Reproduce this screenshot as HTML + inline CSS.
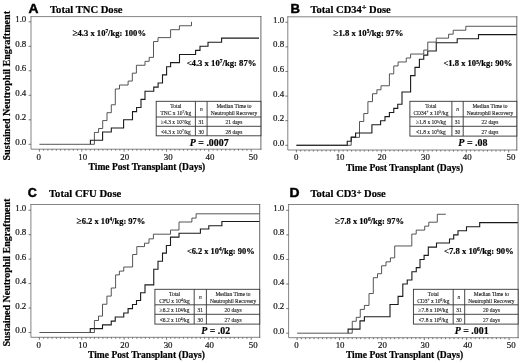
<!DOCTYPE html>
<html lang="en"><head><meta charset="utf-8"><title>Sustained Neutrophil Engraftment</title>
<style>
html,body{margin:0;padding:0;background:#fff;}
body{width:520px;height:363px;overflow:hidden;}
svg{display:block;filter:blur(0.3px);}
</style></head><body>
<svg width="520" height="363" viewBox="0 0 520 363">
<rect width="520" height="363" fill="#fff"/>
<g>
<path d="M90.40 144.30 L90.40 144.30 L90.40 140.22 L102.60 140.22 L102.60 132.05 L111.30 132.05 L111.30 127.97 L123.60 127.97 L123.60 119.80 L132.50 119.80 L132.50 111.63 L136.60 111.63 L136.60 107.55 L141.00 107.55 L141.00 99.38 L145.00 99.38 L145.00 91.22 L153.75 91.22 L153.75 87.13 L158.10 87.13 L158.10 83.05 L162.50 83.05 L162.50 74.88 L166.60 74.88 L166.60 66.72 L170.60 66.72 L170.60 62.63 L179.50 62.63 L179.50 54.47 L195.60 54.47 L195.60 50.38 L200.00 50.38 L200.00 46.30 L208.00 46.30 L208.00 42.22 L221.60 42.22 L221.60 38.13 L259.00 38.13" fill="none" stroke="#1a1a1a" stroke-width="1.1"/>
<path d="M39.40 144.30 L94.40 144.30 L94.40 132.45 L98.60 132.45 L98.60 128.49 L102.70 128.49 L102.70 120.59 L107.00 120.59 L107.00 112.69 L111.30 112.69 L111.30 104.78 L115.30 104.78 L115.30 88.98 L119.50 88.98 L119.50 85.03 L128.10 85.03 L128.10 81.07 L132.30 81.07 L132.30 73.17 L136.40 73.17 L136.40 65.27 L145.00 65.27 L145.00 61.32 L149.20 61.32 L149.20 57.36 L153.50 57.36 L153.50 41.56 L158.00 41.56 L158.00 37.61 L170.60 37.61 L170.60 29.70 L179.40 29.70 L179.40 25.75 L191.50 25.75 L191.50 21.80" fill="none" stroke="#383838" stroke-width="0.85"/>
<path d="M31.00 16.60 V149.20 H260.90 M31.00 16.60 H260.90" fill="none" stroke="#767676" stroke-width="0.9" stroke-linecap="square"/>
<path d="M260.90 16.60 V149.20" fill="none" stroke="#585858" stroke-width="0.9" stroke-linecap="square"/>
<path d="M39.40 149.20 v2.40M43.64 149.20 v1.50M47.87 149.20 v1.50M52.11 149.20 v1.50M56.34 149.20 v1.50M60.58 149.20 v1.50M64.82 149.20 v1.50M69.05 149.20 v1.50M73.29 149.20 v1.50M77.52 149.20 v1.50M81.76 149.20 v2.40M86.00 149.20 v1.50M90.23 149.20 v1.50M94.47 149.20 v1.50M98.70 149.20 v1.50M102.94 149.20 v1.50M107.18 149.20 v1.50M111.41 149.20 v1.50M115.65 149.20 v1.50M119.88 149.20 v1.50M124.12 149.20 v2.40M128.36 149.20 v1.50M132.59 149.20 v1.50M136.83 149.20 v1.50M141.06 149.20 v1.50M145.30 149.20 v1.50M149.54 149.20 v1.50M153.77 149.20 v1.50M158.01 149.20 v1.50M162.24 149.20 v1.50M166.48 149.20 v2.40M170.72 149.20 v1.50M174.95 149.20 v1.50M179.19 149.20 v1.50M183.42 149.20 v1.50M187.66 149.20 v1.50M191.90 149.20 v1.50M196.13 149.20 v1.50M200.37 149.20 v1.50M204.60 149.20 v1.50M208.84 149.20 v2.40M213.08 149.20 v1.50M217.31 149.20 v1.50M221.55 149.20 v1.50M225.78 149.20 v1.50M230.02 149.20 v1.50M234.26 149.20 v1.50M238.49 149.20 v1.50M242.73 149.20 v1.50M246.96 149.20 v1.50M251.20 149.20 v2.40M31.00 144.30 h-2.40M31.00 119.80 h-2.40M31.00 95.30 h-2.40M31.00 70.80 h-2.40M31.00 46.30 h-2.40M31.00 21.80 h-2.40" fill="none" stroke="#555" stroke-width="0.8"/>
<text x="38.60" y="160.00" text-anchor="middle" font-family='"Liberation Serif", serif' font-size="8.9" fill="#151515" stroke="#151515" stroke-width="0.2">0</text>
<text x="82.80" y="160.00" text-anchor="middle" font-family='"Liberation Serif", serif' font-size="8.9" fill="#151515" stroke="#151515" stroke-width="0.2">10</text>
<text x="124.70" y="160.00" text-anchor="middle" font-family='"Liberation Serif", serif' font-size="8.9" fill="#151515" stroke="#151515" stroke-width="0.2">20</text>
<text x="168.20" y="160.00" text-anchor="middle" font-family='"Liberation Serif", serif' font-size="8.9" fill="#151515" stroke="#151515" stroke-width="0.2">30</text>
<text x="209.90" y="160.00" text-anchor="middle" font-family='"Liberation Serif", serif' font-size="8.9" fill="#151515" stroke="#151515" stroke-width="0.2">40</text>
<text x="253.30" y="160.00" text-anchor="middle" font-family='"Liberation Serif", serif' font-size="8.9" fill="#151515" stroke="#151515" stroke-width="0.2">50</text>
<text x="26.30" y="144.80" text-anchor="end" font-family='"Liberation Serif", serif' font-size="8.9" fill="#151515" stroke="#151515" stroke-width="0.2">0.0</text>
<text x="26.30" y="120.30" text-anchor="end" font-family='"Liberation Serif", serif' font-size="8.9" fill="#151515" stroke="#151515" stroke-width="0.2">0.2</text>
<text x="26.30" y="95.80" text-anchor="end" font-family='"Liberation Serif", serif' font-size="8.9" fill="#151515" stroke="#151515" stroke-width="0.2">0.4</text>
<text x="26.30" y="71.30" text-anchor="end" font-family='"Liberation Serif", serif' font-size="8.9" fill="#151515" stroke="#151515" stroke-width="0.2">0.6</text>
<text x="26.30" y="46.80" text-anchor="end" font-family='"Liberation Serif", serif' font-size="8.9" fill="#151515" stroke="#151515" stroke-width="0.2">0.8</text>
<text x="26.30" y="22.30" text-anchor="end" font-family='"Liberation Serif", serif' font-size="8.9" fill="#151515" stroke="#151515" stroke-width="0.2">1.0</text>
<text transform="translate(28.60 13.20) scale(1.100 1)" font-family='"Liberation Sans", sans-serif' font-weight="bold" font-size="12.6" fill="#000" stroke="#000" stroke-width="0.45">A</text>
<text x="50.00" y="12.50" textLength="72.50" lengthAdjust="spacingAndGlyphs" font-family='"Liberation Serif", serif' font-weight="bold" font-size="10.7" fill="#000" stroke="#000" stroke-width="0.2">Total TNC Dose</text>
<text x="72.40" y="35.90" textLength="73.60" lengthAdjust="spacingAndGlyphs" font-family='"Liberation Serif", serif' font-weight="bold" font-size="9" fill="#000" stroke="#000" stroke-width="0.2"><tspan font-weight="normal" font-size="1.1em">≥</tspan>4.3 x 10<tspan font-size="5.6" dy="-2.7">7</tspan><tspan dy="2.7">/kg: 100%</tspan></text>
<text x="186.70" y="66.20" textLength="69.80" lengthAdjust="spacingAndGlyphs" font-family='"Liberation Serif", serif' font-weight="bold" font-size="9" fill="#000" stroke="#000" stroke-width="0.2"><tspan font-weight="normal">&lt;</tspan>4.3 x 10<tspan font-size="5.6" dy="-2.7">7</tspan><tspan dy="2.7">/kg: 87%</tspan></text>
<text x="88.60" y="170.40" textLength="116.70" lengthAdjust="spacingAndGlyphs" font-family='"Liberation Serif", serif' font-weight="bold" font-size="9.6" fill="#000" stroke="#000" stroke-width="0.2">Time Post Transplant (Days)</text>
<text transform="translate(9.80 160.50) rotate(-90)" textLength="149.50" lengthAdjust="spacingAndGlyphs" font-family='"Liberation Serif", serif' font-weight="bold" font-size="10.2" fill="#000" stroke="#000" stroke-width="0.2">Sustained Neutrophil Engraftment</text>
<rect x="156.20" y="101.30" width="104.70" height="34.50" fill="#fff" stroke="#333" stroke-width="0.9"/>
<path d="M156.20 117.00 H260.90M156.20 126.30 H260.90M195.40 101.30 V135.80M207.10 101.30 V135.80" fill="none" stroke="#333" stroke-width="0.9"/>
<text x="175.80" y="107.70" text-anchor="middle" font-family='"Liberation Serif", serif' font-size="5.5" fill="#1a1a1a" stroke="#1a1a1a" stroke-width="0.12" >Total</text>
<text x="175.80" y="114.70" text-anchor="middle" font-family='"Liberation Serif", serif' font-size="5.5" fill="#1a1a1a" stroke="#1a1a1a" stroke-width="0.12" >TNC x 10<tspan font-size="3.6" dy="-1.6">7</tspan><tspan dy="1.6">/kg</tspan></text>
<text x="201.25" y="111.20" text-anchor="middle" font-family='"Liberation Serif", serif' font-size="5.5" fill="#1a1a1a" stroke="#1a1a1a" stroke-width="0.12" font-style="italic">n</text>
<text x="234.00" y="107.70" text-anchor="middle" font-family='"Liberation Serif", serif' font-size="5.5" fill="#1a1a1a" stroke="#1a1a1a" stroke-width="0.12" >Median Time to</text>
<text x="234.00" y="114.70" text-anchor="middle" font-family='"Liberation Serif", serif' font-size="5.5" fill="#1a1a1a" stroke="#1a1a1a" stroke-width="0.12" >Neutrophil Recovery</text>
<text x="175.80" y="124.30" text-anchor="middle" font-family='"Liberation Serif", serif' font-size="5.5" fill="#1a1a1a" stroke="#1a1a1a" stroke-width="0.12" ><tspan font-weight="normal" font-size="1.1em">≥</tspan>4.3 x 10<tspan font-size="3.6" dy="-1.6">7</tspan><tspan dy="1.6">/kg</tspan></text>
<text x="201.25" y="124.30" text-anchor="middle" font-family='"Liberation Serif", serif' font-size="5.5" fill="#1a1a1a" stroke="#1a1a1a" stroke-width="0.12" >31</text>
<text x="234.00" y="124.30" text-anchor="middle" font-family='"Liberation Serif", serif' font-size="5.5" fill="#1a1a1a" stroke="#1a1a1a" stroke-width="0.12" >21 days</text>
<text x="175.80" y="133.60" text-anchor="middle" font-family='"Liberation Serif", serif' font-size="5.5" fill="#1a1a1a" stroke="#1a1a1a" stroke-width="0.12" ><tspan font-weight="normal">&lt;</tspan>4.3 x 10<tspan font-size="3.6" dy="-1.6">7</tspan><tspan dy="1.6">/kg</tspan></text>
<text x="201.25" y="133.60" text-anchor="middle" font-family='"Liberation Serif", serif' font-size="5.5" fill="#1a1a1a" stroke="#1a1a1a" stroke-width="0.12" >30</text>
<text x="234.00" y="133.60" text-anchor="middle" font-family='"Liberation Serif", serif' font-size="5.5" fill="#1a1a1a" stroke="#1a1a1a" stroke-width="0.12" >28 days</text>
<text x="189.80" y="145.80" textLength="38.80" lengthAdjust="spacingAndGlyphs" font-family='"Liberation Serif", serif' font-weight="bold" font-size="10.6" fill="#000" stroke="#000" stroke-width="0.2"><tspan font-style="italic">P</tspan> = .0007</text>
</g>
<g>
<path d="M296.40 145.30 L351.20 145.30 L351.20 137.36 L359.50 137.36 L359.50 121.49 L363.75 121.49 L363.75 113.56 L367.90 113.56 L367.90 101.65 L372.50 101.65 L372.50 93.72 L376.90 93.72 L376.90 89.75 L381.00 89.75 L381.00 85.78 L389.40 85.78 L389.40 73.88 L393.75 73.88 L393.75 65.95 L398.10 65.95 L398.10 61.98 L406.25 61.98 L406.25 58.01 L410.60 58.01 L410.60 54.04 L423.75 54.04 L423.75 50.07 L427.75 50.07 L427.75 42.14 L436.25 42.14 L436.25 38.17 L448.60 38.17 L448.60 34.20 L453.20 34.20 L453.20 30.24 L465.80 30.24 L465.80 26.27 L516.80 26.27" fill="none" stroke="#383838" stroke-width="0.85"/>
<path d="M296.40 145.30 L347.25 145.30 L347.25 141.20 L351.20 141.20 L351.20 137.10 L355.60 137.10 L355.60 133.00 L371.90 133.00 L371.90 124.80 L380.60 124.80 L380.60 120.70 L385.00 120.70 L385.00 116.60 L389.40 116.60 L389.40 112.50 L393.75 112.50 L393.75 108.40 L397.75 108.40 L397.75 104.30 L402.00 104.30 L402.00 92.00 L410.60 92.00 L410.60 75.60 L415.00 75.60 L415.00 67.40 L419.40 67.40 L419.40 59.20 L423.75 59.20 L423.75 55.10 L427.75 55.10 L427.75 51.00 L436.25 51.00 L436.25 42.80 L457.20 42.80 L457.20 38.70 L478.50 38.70 L478.50 34.60 L516.80 34.60" fill="none" stroke="#1a1a1a" stroke-width="1.1"/>
<path d="M287.80 16.80 V150.00 H516.80 M287.80 16.80 H516.80" fill="none" stroke="#767676" stroke-width="0.9" stroke-linecap="square"/>
<path d="M516.80 16.80 V150.00" fill="none" stroke="#585858" stroke-width="0.9" stroke-linecap="square"/>
<path d="M296.40 150.00 v2.40M300.65 150.00 v1.50M304.89 150.00 v1.50M309.14 150.00 v1.50M313.38 150.00 v1.50M317.63 150.00 v1.50M321.88 150.00 v1.50M326.12 150.00 v1.50M330.37 150.00 v1.50M334.61 150.00 v1.50M338.86 150.00 v2.40M343.11 150.00 v1.50M347.35 150.00 v1.50M351.60 150.00 v1.50M355.84 150.00 v1.50M360.09 150.00 v1.50M364.34 150.00 v1.50M368.58 150.00 v1.50M372.83 150.00 v1.50M377.07 150.00 v1.50M381.32 150.00 v2.40M385.57 150.00 v1.50M389.81 150.00 v1.50M394.06 150.00 v1.50M398.30 150.00 v1.50M402.55 150.00 v1.50M406.80 150.00 v1.50M411.04 150.00 v1.50M415.29 150.00 v1.50M419.53 150.00 v1.50M423.78 150.00 v2.40M428.03 150.00 v1.50M432.27 150.00 v1.50M436.52 150.00 v1.50M440.76 150.00 v1.50M445.01 150.00 v1.50M449.26 150.00 v1.50M453.50 150.00 v1.50M457.75 150.00 v1.50M461.99 150.00 v1.50M466.24 150.00 v2.40M470.49 150.00 v1.50M474.73 150.00 v1.50M478.98 150.00 v1.50M483.22 150.00 v1.50M487.47 150.00 v1.50M491.72 150.00 v1.50M495.96 150.00 v1.50M500.21 150.00 v1.50M504.45 150.00 v1.50M508.70 150.00 v2.40M287.80 145.30 h-2.40M287.80 120.70 h-2.40M287.80 96.10 h-2.40M287.80 71.50 h-2.40M287.80 46.90 h-2.40M287.80 22.30 h-2.40" fill="none" stroke="#555" stroke-width="0.8"/>
<text x="296.30" y="160.40" text-anchor="middle" font-family='"Liberation Serif", serif' font-size="8.9" fill="#151515" stroke="#151515" stroke-width="0.2">0</text>
<text x="340.10" y="160.40" text-anchor="middle" font-family='"Liberation Serif", serif' font-size="8.9" fill="#151515" stroke="#151515" stroke-width="0.2">10</text>
<text x="382.00" y="160.40" text-anchor="middle" font-family='"Liberation Serif", serif' font-size="8.9" fill="#151515" stroke="#151515" stroke-width="0.2">20</text>
<text x="425.50" y="160.40" text-anchor="middle" font-family='"Liberation Serif", serif' font-size="8.9" fill="#151515" stroke="#151515" stroke-width="0.2">30</text>
<text x="467.30" y="160.40" text-anchor="middle" font-family='"Liberation Serif", serif' font-size="8.9" fill="#151515" stroke="#151515" stroke-width="0.2">40</text>
<text x="510.90" y="160.40" text-anchor="middle" font-family='"Liberation Serif", serif' font-size="8.9" fill="#151515" stroke="#151515" stroke-width="0.2">50</text>
<text x="284.20" y="145.80" text-anchor="end" font-family='"Liberation Serif", serif' font-size="8.9" fill="#151515" stroke="#151515" stroke-width="0.2">0.0</text>
<text x="284.20" y="121.20" text-anchor="end" font-family='"Liberation Serif", serif' font-size="8.9" fill="#151515" stroke="#151515" stroke-width="0.2">0.2</text>
<text x="284.20" y="96.60" text-anchor="end" font-family='"Liberation Serif", serif' font-size="8.9" fill="#151515" stroke="#151515" stroke-width="0.2">0.4</text>
<text x="284.20" y="72.00" text-anchor="end" font-family='"Liberation Serif", serif' font-size="8.9" fill="#151515" stroke="#151515" stroke-width="0.2">0.6</text>
<text x="284.20" y="47.40" text-anchor="end" font-family='"Liberation Serif", serif' font-size="8.9" fill="#151515" stroke="#151515" stroke-width="0.2">0.8</text>
<text x="284.20" y="22.80" text-anchor="end" font-family='"Liberation Serif", serif' font-size="8.9" fill="#151515" stroke="#151515" stroke-width="0.2">1.0</text>
<text transform="translate(290.60 13.20) scale(1.040 1)" font-family='"Liberation Sans", sans-serif' font-weight="bold" font-size="12.6" fill="#000" stroke="#000" stroke-width="0.45">B</text>
<text x="310.50" y="12.50" textLength="80.20" lengthAdjust="spacingAndGlyphs" font-family='"Liberation Serif", serif' font-weight="bold" font-size="10.7" fill="#000" stroke="#000" stroke-width="0.2">Total CD34<tspan font-size="8.5" dy="-2.9">+</tspan><tspan dy="2.9"> Dose</tspan></text>
<text x="333.20" y="35.50" textLength="70.20" lengthAdjust="spacingAndGlyphs" font-family='"Liberation Serif", serif' font-weight="bold" font-size="9" fill="#000" stroke="#000" stroke-width="0.2"><tspan font-weight="normal" font-size="1.1em">≥</tspan>1.8 x 10<tspan font-size="5.6" dy="-2.7">5</tspan><tspan dy="2.7">/kg: 97%</tspan></text>
<text x="443.50" y="66.30" textLength="68.80" lengthAdjust="spacingAndGlyphs" font-family='"Liberation Serif", serif' font-weight="bold" font-size="9" fill="#000" stroke="#000" stroke-width="0.2"><tspan font-weight="normal">&lt;</tspan>1.8 x 10<tspan font-size="5.6" dy="-2.7">5</tspan><tspan dy="2.7">/kg: 90%</tspan></text>
<text x="345.90" y="170.70" textLength="117.40" lengthAdjust="spacingAndGlyphs" font-family='"Liberation Serif", serif' font-weight="bold" font-size="9.6" fill="#000" stroke="#000" stroke-width="0.2">Time Post Transplant (Days)</text>
<rect x="409.90" y="101.30" width="106.90" height="34.80" fill="#fff" stroke="#333" stroke-width="0.9"/>
<path d="M409.90 116.90 H516.80M409.90 126.30 H516.80M451.90 101.30 V136.10M463.20 101.30 V136.10" fill="none" stroke="#333" stroke-width="0.9"/>
<text x="430.90" y="107.70" text-anchor="middle" font-family='"Liberation Serif", serif' font-size="5.5" fill="#1a1a1a" stroke="#1a1a1a" stroke-width="0.12" >Total</text>
<text x="430.90" y="114.70" text-anchor="middle" font-family='"Liberation Serif", serif' font-size="5.5" fill="#1a1a1a" stroke="#1a1a1a" stroke-width="0.12" >CD34<tspan font-size="3.6" dy="-1.6">+</tspan><tspan dy="1.6"> x 10</tspan><tspan font-size="3.6" dy="-1.6">5</tspan><tspan dy="1.6">/kg</tspan></text>
<text x="457.55" y="111.20" text-anchor="middle" font-family='"Liberation Serif", serif' font-size="5.5" fill="#1a1a1a" stroke="#1a1a1a" stroke-width="0.12" font-style="italic">n</text>
<text x="490.00" y="107.70" text-anchor="middle" font-family='"Liberation Serif", serif' font-size="5.5" fill="#1a1a1a" stroke="#1a1a1a" stroke-width="0.12" >Median Time to</text>
<text x="490.00" y="114.70" text-anchor="middle" font-family='"Liberation Serif", serif' font-size="5.5" fill="#1a1a1a" stroke="#1a1a1a" stroke-width="0.12" >Neutrophil Recovery</text>
<text x="430.90" y="124.20" text-anchor="middle" font-family='"Liberation Serif", serif' font-size="5.5" fill="#1a1a1a" stroke="#1a1a1a" stroke-width="0.12" ><tspan font-weight="normal" font-size="1.1em">≥</tspan>1.8 x 10<tspan font-size="3.6" dy="-1.6">5</tspan><tspan dy="1.6">/kg</tspan></text>
<text x="457.55" y="124.20" text-anchor="middle" font-family='"Liberation Serif", serif' font-size="5.5" fill="#1a1a1a" stroke="#1a1a1a" stroke-width="0.12" >31</text>
<text x="490.00" y="124.20" text-anchor="middle" font-family='"Liberation Serif", serif' font-size="5.5" fill="#1a1a1a" stroke="#1a1a1a" stroke-width="0.12" >22 days</text>
<text x="430.90" y="133.60" text-anchor="middle" font-family='"Liberation Serif", serif' font-size="5.5" fill="#1a1a1a" stroke="#1a1a1a" stroke-width="0.12" ><tspan font-weight="normal">&lt;</tspan>1.8 x 10<tspan font-size="3.6" dy="-1.6">5</tspan><tspan dy="1.6">/kg</tspan></text>
<text x="457.55" y="133.60" text-anchor="middle" font-family='"Liberation Serif", serif' font-size="5.5" fill="#1a1a1a" stroke="#1a1a1a" stroke-width="0.12" >30</text>
<text x="490.00" y="133.60" text-anchor="middle" font-family='"Liberation Serif", serif' font-size="5.5" fill="#1a1a1a" stroke="#1a1a1a" stroke-width="0.12" >27 days</text>
<text x="458.30" y="146.40" textLength="29.20" lengthAdjust="spacingAndGlyphs" font-family='"Liberation Serif", serif' font-weight="bold" font-size="10.6" fill="#000" stroke="#000" stroke-width="0.2"><tspan font-style="italic">P</tspan> = .08</text>
</g>
<g>
<path d="M90.25 332.50 L90.25 332.50 L90.25 328.60 L102.50 328.60 L102.50 324.90 L111.25 324.90 L111.25 321.10 L115.25 321.10 L115.25 317.00 L123.75 317.00 L123.75 313.00 L128.10 313.00 L128.10 308.60 L132.50 308.60 L132.50 304.50 L136.50 304.50 L136.50 300.50 L140.60 300.50 L140.60 292.75 L145.00 292.75 L145.00 284.90 L153.75 284.90 L153.75 269.25 L158.00 269.25 L158.00 261.30 L162.50 261.30 L162.50 253.10 L166.40 253.10 L166.40 245.50 L170.50 245.50 L170.50 237.10 L179.00 237.10 L179.00 233.30 L200.40 233.30 L200.40 229.00 L208.80 229.00 L208.80 225.80 L221.90 225.80 L221.90 221.50 L259.70 221.50" fill="none" stroke="#1a1a1a" stroke-width="1.1"/>
<path d="M39.40 332.50 L94.40 332.50 L94.40 320.50 L98.50 320.50 L98.50 316.10 L102.50 316.10 L102.50 304.25 L106.90 304.25 L106.90 296.10 L111.25 296.10 L111.25 288.00 L115.60 288.00 L115.60 274.90 L119.40 274.90 L119.40 271.10 L123.75 271.10 L123.75 267.00 L132.60 267.00 L132.60 254.50 L136.80 254.50 L136.80 246.60 L144.50 246.60 L144.50 243.20 L149.00 243.20 L149.00 238.85 L153.40 238.85 L153.40 234.20 L170.50 234.20 L170.50 230.05 L179.00 230.05 L179.00 222.00 L191.90 222.00 L191.90 218.10 L196.10 218.10 L196.10 213.80 L259.70 213.80" fill="none" stroke="#383838" stroke-width="0.85"/>
<path d="M30.90 204.50 V337.30 H259.70 M30.90 204.50 H259.70" fill="none" stroke="#767676" stroke-width="0.9" stroke-linecap="square"/>
<path d="M259.70 204.50 V337.30" fill="none" stroke="#585858" stroke-width="0.9" stroke-linecap="square"/>
<path d="M39.40 337.30 v2.40M43.64 337.30 v1.50M47.87 337.30 v1.50M52.11 337.30 v1.50M56.34 337.30 v1.50M60.58 337.30 v1.50M64.82 337.30 v1.50M69.05 337.30 v1.50M73.29 337.30 v1.50M77.52 337.30 v1.50M81.76 337.30 v2.40M86.00 337.30 v1.50M90.23 337.30 v1.50M94.47 337.30 v1.50M98.70 337.30 v1.50M102.94 337.30 v1.50M107.18 337.30 v1.50M111.41 337.30 v1.50M115.65 337.30 v1.50M119.88 337.30 v1.50M124.12 337.30 v2.40M128.36 337.30 v1.50M132.59 337.30 v1.50M136.83 337.30 v1.50M141.06 337.30 v1.50M145.30 337.30 v1.50M149.54 337.30 v1.50M153.77 337.30 v1.50M158.01 337.30 v1.50M162.24 337.30 v1.50M166.48 337.30 v2.40M170.72 337.30 v1.50M174.95 337.30 v1.50M179.19 337.30 v1.50M183.42 337.30 v1.50M187.66 337.30 v1.50M191.90 337.30 v1.50M196.13 337.30 v1.50M200.37 337.30 v1.50M204.60 337.30 v1.50M208.84 337.30 v2.40M213.08 337.30 v1.50M217.31 337.30 v1.50M221.55 337.30 v1.50M225.78 337.30 v1.50M230.02 337.30 v1.50M234.26 337.30 v1.50M238.49 337.30 v1.50M242.73 337.30 v1.50M246.96 337.30 v1.50M251.20 337.30 v2.40M30.90 332.50 h-2.40M30.90 308.04 h-2.40M30.90 283.58 h-2.40M30.90 259.12 h-2.40M30.90 234.66 h-2.40M30.90 210.20 h-2.40" fill="none" stroke="#555" stroke-width="0.8"/>
<text x="38.60" y="348.00" text-anchor="middle" font-family='"Liberation Serif", serif' font-size="8.9" fill="#151515" stroke="#151515" stroke-width="0.2">0</text>
<text x="82.70" y="348.00" text-anchor="middle" font-family='"Liberation Serif", serif' font-size="8.9" fill="#151515" stroke="#151515" stroke-width="0.2">10</text>
<text x="124.70" y="348.00" text-anchor="middle" font-family='"Liberation Serif", serif' font-size="8.9" fill="#151515" stroke="#151515" stroke-width="0.2">20</text>
<text x="168.10" y="348.00" text-anchor="middle" font-family='"Liberation Serif", serif' font-size="8.9" fill="#151515" stroke="#151515" stroke-width="0.2">30</text>
<text x="209.50" y="348.00" text-anchor="middle" font-family='"Liberation Serif", serif' font-size="8.9" fill="#151515" stroke="#151515" stroke-width="0.2">40</text>
<text x="253.30" y="348.00" text-anchor="middle" font-family='"Liberation Serif", serif' font-size="8.9" fill="#151515" stroke="#151515" stroke-width="0.2">50</text>
<text x="26.30" y="333.00" text-anchor="end" font-family='"Liberation Serif", serif' font-size="8.9" fill="#151515" stroke="#151515" stroke-width="0.2">0.0</text>
<text x="26.30" y="308.54" text-anchor="end" font-family='"Liberation Serif", serif' font-size="8.9" fill="#151515" stroke="#151515" stroke-width="0.2">0.2</text>
<text x="26.30" y="284.08" text-anchor="end" font-family='"Liberation Serif", serif' font-size="8.9" fill="#151515" stroke="#151515" stroke-width="0.2">0.4</text>
<text x="26.30" y="259.62" text-anchor="end" font-family='"Liberation Serif", serif' font-size="8.9" fill="#151515" stroke="#151515" stroke-width="0.2">0.6</text>
<text x="26.30" y="235.16" text-anchor="end" font-family='"Liberation Serif", serif' font-size="8.9" fill="#151515" stroke="#151515" stroke-width="0.2">0.8</text>
<text x="26.30" y="210.70" text-anchor="end" font-family='"Liberation Serif", serif' font-size="8.9" fill="#151515" stroke="#151515" stroke-width="0.2">1.0</text>
<text transform="translate(27.80 197.10) scale(1.000 1)" font-family='"Liberation Sans", sans-serif' font-weight="bold" font-size="12.6" fill="#000" stroke="#000" stroke-width="0.45">C</text>
<text x="49.00" y="197.30" textLength="72.30" lengthAdjust="spacingAndGlyphs" font-family='"Liberation Serif", serif' font-weight="bold" font-size="10.7" fill="#000" stroke="#000" stroke-width="0.2">Total CFU Dose</text>
<text x="76.60" y="223.80" textLength="68.80" lengthAdjust="spacingAndGlyphs" font-family='"Liberation Serif", serif' font-weight="bold" font-size="9" fill="#000" stroke="#000" stroke-width="0.2"><tspan font-weight="normal" font-size="1.1em">≥</tspan>6.2 x 10<tspan font-size="5.6" dy="-2.7">4</tspan><tspan dy="2.7">/kg: 97%</tspan></text>
<text x="186.90" y="253.70" textLength="67.70" lengthAdjust="spacingAndGlyphs" font-family='"Liberation Serif", serif' font-weight="bold" font-size="9" fill="#000" stroke="#000" stroke-width="0.2"><tspan font-weight="normal">&lt;</tspan>6.2 x 10<tspan font-size="5.6" dy="-2.7">4</tspan><tspan dy="2.7">/kg: 90%</tspan></text>
<text x="88.00" y="358.40" textLength="117.00" lengthAdjust="spacingAndGlyphs" font-family='"Liberation Serif", serif' font-weight="bold" font-size="9.6" fill="#000" stroke="#000" stroke-width="0.2">Time Post Transplant (Days)</text>
<text transform="translate(9.50 346.60) rotate(-90)" textLength="148.00" lengthAdjust="spacingAndGlyphs" font-family='"Liberation Serif", serif' font-weight="bold" font-size="10.2" fill="#000" stroke="#000" stroke-width="0.2">Sustained Neutrophil Engraftment</text>
<rect x="154.90" y="289.30" width="104.80" height="34.80" fill="#fff" stroke="#333" stroke-width="0.9"/>
<path d="M154.90 304.80 H259.70M154.90 314.30 H259.70M194.20 289.30 V324.10M206.40 289.30 V324.10" fill="none" stroke="#333" stroke-width="0.9"/>
<text x="174.55" y="295.70" text-anchor="middle" font-family='"Liberation Serif", serif' font-size="5.5" fill="#1a1a1a" stroke="#1a1a1a" stroke-width="0.12" >Total</text>
<text x="174.55" y="302.70" text-anchor="middle" font-family='"Liberation Serif", serif' font-size="5.5" fill="#1a1a1a" stroke="#1a1a1a" stroke-width="0.12" >CFU x 10<tspan font-size="3.6" dy="-1.6">4</tspan><tspan dy="1.6">/kg</tspan></text>
<text x="200.30" y="299.20" text-anchor="middle" font-family='"Liberation Serif", serif' font-size="5.5" fill="#1a1a1a" stroke="#1a1a1a" stroke-width="0.12" font-style="italic">n</text>
<text x="233.05" y="295.70" text-anchor="middle" font-family='"Liberation Serif", serif' font-size="5.5" fill="#1a1a1a" stroke="#1a1a1a" stroke-width="0.12" >Median Time to</text>
<text x="233.05" y="302.70" text-anchor="middle" font-family='"Liberation Serif", serif' font-size="5.5" fill="#1a1a1a" stroke="#1a1a1a" stroke-width="0.12" >Neutrophil Recovery</text>
<text x="174.55" y="312.10" text-anchor="middle" font-family='"Liberation Serif", serif' font-size="5.5" fill="#1a1a1a" stroke="#1a1a1a" stroke-width="0.12" ><tspan font-weight="normal" font-size="1.1em">≥</tspan>6.2 x 10<tspan font-size="3.6" dy="-1.6">4</tspan><tspan dy="1.6">/kg</tspan></text>
<text x="200.30" y="312.10" text-anchor="middle" font-family='"Liberation Serif", serif' font-size="5.5" fill="#1a1a1a" stroke="#1a1a1a" stroke-width="0.12" >31</text>
<text x="233.05" y="312.10" text-anchor="middle" font-family='"Liberation Serif", serif' font-size="5.5" fill="#1a1a1a" stroke="#1a1a1a" stroke-width="0.12" >20 days</text>
<text x="174.55" y="321.60" text-anchor="middle" font-family='"Liberation Serif", serif' font-size="5.5" fill="#1a1a1a" stroke="#1a1a1a" stroke-width="0.12" ><tspan font-weight="normal">&lt;</tspan>6.2 x 10<tspan font-size="3.6" dy="-1.6">4</tspan><tspan dy="1.6">/kg</tspan></text>
<text x="200.30" y="321.60" text-anchor="middle" font-family='"Liberation Serif", serif' font-size="5.5" fill="#1a1a1a" stroke="#1a1a1a" stroke-width="0.12" >30</text>
<text x="233.05" y="321.60" text-anchor="middle" font-family='"Liberation Serif", serif' font-size="5.5" fill="#1a1a1a" stroke="#1a1a1a" stroke-width="0.12" >27 days</text>
<text x="201.30" y="334.20" textLength="28.80" lengthAdjust="spacingAndGlyphs" font-family='"Liberation Serif", serif' font-weight="bold" font-size="10.6" fill="#000" stroke="#000" stroke-width="0.2"><tspan font-style="italic">P</tspan> = .02</text>
</g>
<g>
<path d="M348.10 333.20 L348.10 333.20 L348.10 329.10 L360.00 329.10 L360.00 320.91 L364.40 320.91 L364.40 316.81 L390.00 316.81 L390.00 304.52 L398.10 304.52 L398.10 296.33 L402.80 296.33 L402.80 284.04 L407.25 284.04 L407.25 279.94 L411.90 279.94 L411.90 271.75 L416.25 271.75 L416.25 267.65 L420.00 267.65 L420.00 259.46 L424.10 259.46 L424.10 255.36 L428.30 255.36 L428.30 247.17 L436.50 247.17 L436.50 243.07 L449.50 243.07 L449.50 238.98 L453.70 238.98 L453.70 234.88 L458.00 234.88 L458.00 230.78 L466.50 230.78 L466.50 226.69 L479.70 226.69 L479.70 222.59 L518.10 222.59" fill="none" stroke="#1a1a1a" stroke-width="1.1"/>
<path d="M297.10 333.20 L352.25 333.20 L352.25 321.31 L356.25 321.31 L356.25 317.34 L360.25 317.34 L360.25 309.41 L364.40 309.41 L364.40 305.45 L369.00 305.45 L369.00 293.55 L373.30 293.55 L373.30 277.70 L377.50 277.70 L377.50 273.73 L381.60 273.73 L381.60 265.80 L386.00 265.80 L386.00 261.84 L390.40 261.84 L390.40 257.87 L394.70 257.87 L394.70 245.98 L411.80 245.98 L411.80 234.09 L416.20 234.09 L416.20 230.12 L424.70 230.12 L424.70 226.16 L428.80 226.16 L428.80 222.19 L437.30 222.19 L437.30 214.26 L445.80 214.26" fill="none" stroke="#383838" stroke-width="0.85"/>
<path d="M288.60 204.50 V337.70 H518.10 M288.60 204.50 H518.10" fill="none" stroke="#767676" stroke-width="0.9" stroke-linecap="square"/>
<path d="M518.10 204.50 V337.70" fill="none" stroke="#585858" stroke-width="0.9" stroke-linecap="square"/>
<path d="M297.10 337.70 v2.40M301.34 337.70 v1.50M305.58 337.70 v1.50M309.82 337.70 v1.50M314.06 337.70 v1.50M318.30 337.70 v1.50M322.54 337.70 v1.50M326.78 337.70 v1.50M331.02 337.70 v1.50M335.26 337.70 v1.50M339.50 337.70 v2.40M343.74 337.70 v1.50M347.98 337.70 v1.50M352.22 337.70 v1.50M356.46 337.70 v1.50M360.70 337.70 v1.50M364.94 337.70 v1.50M369.18 337.70 v1.50M373.42 337.70 v1.50M377.66 337.70 v1.50M381.90 337.70 v2.40M386.14 337.70 v1.50M390.38 337.70 v1.50M394.62 337.70 v1.50M398.86 337.70 v1.50M403.10 337.70 v1.50M407.34 337.70 v1.50M411.58 337.70 v1.50M415.82 337.70 v1.50M420.06 337.70 v1.50M424.30 337.70 v2.40M428.54 337.70 v1.50M432.78 337.70 v1.50M437.02 337.70 v1.50M441.26 337.70 v1.50M445.50 337.70 v1.50M449.74 337.70 v1.50M453.98 337.70 v1.50M458.22 337.70 v1.50M462.46 337.70 v1.50M466.70 337.70 v2.40M470.94 337.70 v1.50M475.18 337.70 v1.50M479.42 337.70 v1.50M483.66 337.70 v1.50M487.90 337.70 v1.50M492.14 337.70 v1.50M496.38 337.70 v1.50M500.62 337.70 v1.50M504.86 337.70 v1.50M509.10 337.70 v2.40M288.60 333.20 h-2.40M288.60 308.62 h-2.40M288.60 284.04 h-2.40M288.60 259.46 h-2.40M288.60 234.88 h-2.40M288.60 210.30 h-2.40" fill="none" stroke="#555" stroke-width="0.8"/>
<text x="296.50" y="347.90" text-anchor="middle" font-family='"Liberation Serif", serif' font-size="8.9" fill="#151515" stroke="#151515" stroke-width="0.2">0</text>
<text x="340.10" y="347.90" text-anchor="middle" font-family='"Liberation Serif", serif' font-size="8.9" fill="#151515" stroke="#151515" stroke-width="0.2">10</text>
<text x="382.50" y="347.90" text-anchor="middle" font-family='"Liberation Serif", serif' font-size="8.9" fill="#151515" stroke="#151515" stroke-width="0.2">20</text>
<text x="425.00" y="347.90" text-anchor="middle" font-family='"Liberation Serif", serif' font-size="8.9" fill="#151515" stroke="#151515" stroke-width="0.2">30</text>
<text x="467.70" y="347.90" text-anchor="middle" font-family='"Liberation Serif", serif' font-size="8.9" fill="#151515" stroke="#151515" stroke-width="0.2">40</text>
<text x="511.20" y="347.90" text-anchor="middle" font-family='"Liberation Serif", serif' font-size="8.9" fill="#151515" stroke="#151515" stroke-width="0.2">50</text>
<text x="284.30" y="333.70" text-anchor="end" font-family='"Liberation Serif", serif' font-size="8.9" fill="#151515" stroke="#151515" stroke-width="0.2">0.0</text>
<text x="284.30" y="309.12" text-anchor="end" font-family='"Liberation Serif", serif' font-size="8.9" fill="#151515" stroke="#151515" stroke-width="0.2">0.2</text>
<text x="284.30" y="284.54" text-anchor="end" font-family='"Liberation Serif", serif' font-size="8.9" fill="#151515" stroke="#151515" stroke-width="0.2">0.4</text>
<text x="284.30" y="259.96" text-anchor="end" font-family='"Liberation Serif", serif' font-size="8.9" fill="#151515" stroke="#151515" stroke-width="0.2">0.6</text>
<text x="284.30" y="235.38" text-anchor="end" font-family='"Liberation Serif", serif' font-size="8.9" fill="#151515" stroke="#151515" stroke-width="0.2">0.8</text>
<text x="284.30" y="210.80" text-anchor="end" font-family='"Liberation Serif", serif' font-size="8.9" fill="#151515" stroke="#151515" stroke-width="0.2">1.0</text>
<text transform="translate(289.50 196.90) scale(1.100 1)" font-family='"Liberation Sans", sans-serif' font-weight="bold" font-size="12.6" fill="#000" stroke="#000" stroke-width="0.45">D</text>
<text x="310.50" y="197.40" textLength="75.20" lengthAdjust="spacingAndGlyphs" font-family='"Liberation Serif", serif' font-weight="bold" font-size="10.7" fill="#000" stroke="#000" stroke-width="0.2">Total CD3<tspan font-size="8.5" dy="-2.9">+</tspan><tspan dy="2.9"> Dose</tspan></text>
<text x="335.00" y="223.80" textLength="69.00" lengthAdjust="spacingAndGlyphs" font-family='"Liberation Serif", serif' font-weight="bold" font-size="9" fill="#000" stroke="#000" stroke-width="0.2"><tspan font-weight="normal" font-size="1.1em">≥</tspan>7.8 x 10<tspan font-size="5.6" dy="-2.7">6</tspan><tspan dy="2.7">/kg: 97%</tspan></text>
<text x="444.00" y="253.90" textLength="69.80" lengthAdjust="spacingAndGlyphs" font-family='"Liberation Serif", serif' font-weight="bold" font-size="9" fill="#000" stroke="#000" stroke-width="0.2"><tspan font-weight="normal">&lt;</tspan>7.8 x 10<tspan font-size="5.6" dy="-2.7">6</tspan><tspan dy="2.7">/kg: 90%</tspan></text>
<text x="345.90" y="358.30" textLength="117.40" lengthAdjust="spacingAndGlyphs" font-family='"Liberation Serif", serif' font-weight="bold" font-size="9.6" fill="#000" stroke="#000" stroke-width="0.2">Time Post Transplant (Days)</text>
<rect x="413.40" y="289.30" width="104.70" height="34.80" fill="#fff" stroke="#333" stroke-width="0.9"/>
<path d="M413.40 304.80 H518.10M413.40 314.30 H518.10M453.20 289.30 V324.10M464.70 289.30 V324.10" fill="none" stroke="#333" stroke-width="0.9"/>
<text x="433.30" y="295.70" text-anchor="middle" font-family='"Liberation Serif", serif' font-size="5.5" fill="#1a1a1a" stroke="#1a1a1a" stroke-width="0.12" >Total</text>
<text x="433.30" y="302.70" text-anchor="middle" font-family='"Liberation Serif", serif' font-size="5.5" fill="#1a1a1a" stroke="#1a1a1a" stroke-width="0.12" >CD3<tspan font-size="3.6" dy="-1.6">+</tspan><tspan dy="1.6"> x 10</tspan><tspan font-size="3.6" dy="-1.6">6</tspan><tspan dy="1.6">/kg</tspan></text>
<text x="458.95" y="299.20" text-anchor="middle" font-family='"Liberation Serif", serif' font-size="5.5" fill="#1a1a1a" stroke="#1a1a1a" stroke-width="0.12" font-style="italic">n</text>
<text x="491.40" y="295.70" text-anchor="middle" font-family='"Liberation Serif", serif' font-size="5.5" fill="#1a1a1a" stroke="#1a1a1a" stroke-width="0.12" >Median Time to</text>
<text x="491.40" y="302.70" text-anchor="middle" font-family='"Liberation Serif", serif' font-size="5.5" fill="#1a1a1a" stroke="#1a1a1a" stroke-width="0.12" >Neutrophil Recovery</text>
<text x="433.30" y="312.10" text-anchor="middle" font-family='"Liberation Serif", serif' font-size="5.5" fill="#1a1a1a" stroke="#1a1a1a" stroke-width="0.12" ><tspan font-weight="normal" font-size="1.1em">≥</tspan>7.8 x 10<tspan font-size="3.6" dy="-1.6">6</tspan><tspan dy="1.6">/kg</tspan></text>
<text x="458.95" y="312.10" text-anchor="middle" font-family='"Liberation Serif", serif' font-size="5.5" fill="#1a1a1a" stroke="#1a1a1a" stroke-width="0.12" >31</text>
<text x="491.40" y="312.10" text-anchor="middle" font-family='"Liberation Serif", serif' font-size="5.5" fill="#1a1a1a" stroke="#1a1a1a" stroke-width="0.12" >20 days</text>
<text x="433.30" y="321.60" text-anchor="middle" font-family='"Liberation Serif", serif' font-size="5.5" fill="#1a1a1a" stroke="#1a1a1a" stroke-width="0.12" ><tspan font-weight="normal">&lt;</tspan>7.8 x 10<tspan font-size="3.6" dy="-1.6">6</tspan><tspan dy="1.6">/kg</tspan></text>
<text x="458.95" y="321.60" text-anchor="middle" font-family='"Liberation Serif", serif' font-size="5.5" fill="#1a1a1a" stroke="#1a1a1a" stroke-width="0.12" >30</text>
<text x="491.40" y="321.60" text-anchor="middle" font-family='"Liberation Serif", serif' font-size="5.5" fill="#1a1a1a" stroke="#1a1a1a" stroke-width="0.12" >27 days</text>
<text x="454.80" y="334.20" textLength="33.80" lengthAdjust="spacingAndGlyphs" font-family='"Liberation Serif", serif' font-weight="bold" font-size="10.6" fill="#000" stroke="#000" stroke-width="0.2"><tspan font-style="italic">P</tspan> = .001</text>
</g>
</svg>
</body></html>
